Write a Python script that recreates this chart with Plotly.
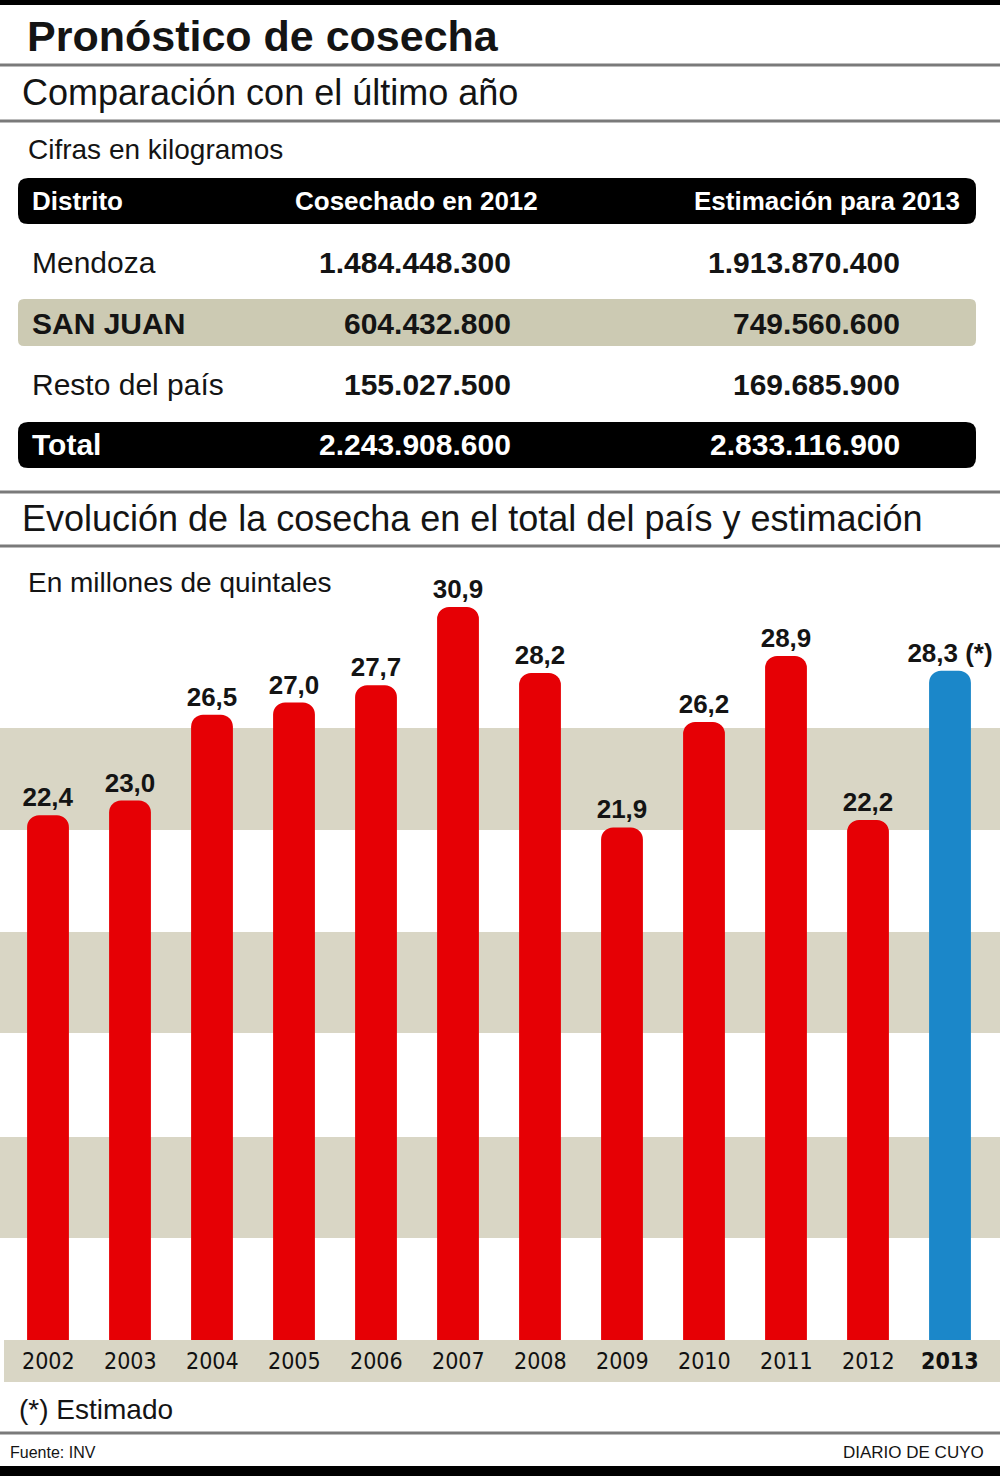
import plotly.graph_objects as go

# ---------------- data ----------------
title = "Pronóstico de cosecha"
subtitle_table = "Comparación con el último año"
table_note = "Cifras en kilogramos"
table_headers = ["Distrito", "Cosechado en 2012", "Estimación para 2013"]
districts = ["Mendoza", "SAN JUAN", "Resto del país"]
harvest_2012 = [1484448300, 604432800, 155027500]
estimate_2013 = [1913870400, 749560600, 169685900]
total_label = "Total"
total_2012 = 2243908600
total_2013 = 2833116900

subtitle_chart = "Evolución de la cosecha en el total del país y estimación"
chart_note = "En millones de quintales"
years = ["2002", "2003", "2004", "2005", "2006", "2007", "2008", "2009", "2010", "2011", "2012", "2013"]
harvest_values = [22.4, 23.0, 26.5, 27.0, 27.7, 30.9, 28.2, 21.9, 26.2, 28.9, 22.2, 28.3]
estimated_flags = [False] * 11 + [True]
footnote = "(*) Estimado"
source = "Fuente: INV"
brand = "DIARIO DE CUYO"

# ---------------- helpers ----------------
W, H = 1000, 1476
RED = "#e60005"
BLUE = "#1b87c9"
BEIGE = "#d9d6c5"
ROWBEIGE = "#cccab3"
TXT = "#141414"
FONT = "Liberation Sans, Arial, sans-serif"
NARROW = "Liberation Sans Narrow, DejaVu Sans Condensed, Liberation Sans, sans-serif"


def px(x):
    return x / W


def py(y):
    return 1 - y / H


def fmt_int(v):
    return f"{v:,}".replace(",", ".")


def fmt_dec(v):
    return f"{v:.1f}".replace(".", ",")


def rounded_rect(x0, y0, x1, y1, r, color):
    rx, ry = r / W, r / H
    X0, X1 = px(x0), px(x1)
    Y0, Y1 = py(y0), py(y1)  # Y0 top (greater), Y1 bottom
    path = (
        f"M {X0+rx},{Y0} L {X1-rx},{Y0} Q {X1},{Y0} {X1},{Y0-ry} "
        f"L {X1},{Y1+ry} Q {X1},{Y1} {X1-rx},{Y1} "
        f"L {X0+rx},{Y1} Q {X0},{Y1} {X0},{Y1+ry} "
        f"L {X0},{Y0-ry} Q {X0},{Y0} {X0+rx},{Y0} Z"
    )
    return dict(type="path", xref="paper", yref="paper", path=path,
                fillcolor=color, line=dict(width=0), layer="below")


def hline(y, width=3, color="#7a7a7a"):
    return dict(type="line", xref="paper", yref="paper", x0=0, x1=1,
                y0=py(y), y1=py(y), line=dict(color=color, width=width), layer="above")


shapes = []
annotations = []


def text(x, y, s, size, bold=False, color=TXT, anchor="left", family=FONT):
    if bold:
        s = f"<b>{s}</b>"
    annotations.append(dict(
        xref="paper", yref="paper", x=px(x), y=py(y), text=s, showarrow=False,
        xanchor=anchor, yanchor="middle",
        font=dict(family=family, size=size, color=color)))


# ---------------- header ----------------
shapes.append(dict(type="rect", xref="paper", yref="paper", x0=0, x1=1,
                   y0=py(5), y1=1, fillcolor="#000", line=dict(width=0)))
text(25, 36, title, 43, bold=True)
shapes.append(hline(65))
text(20, 93, subtitle_table, 36)
shapes.append(hline(121))
text(26, 150, table_note, 28)

# ---------------- table ----------------
col_left = 30
col2_right = 513
col3_right = 902
shapes.append(rounded_rect(18, 178, 976, 224, 10, "#000"))
text(col_left, 201, table_headers[0], 26, bold=True, color="white")
text(416, 201, table_headers[1], 26, bold=True, color="white", anchor="center")
text(962, 201, table_headers[2], 26, bold=True, color="white", anchor="right")

row_y = [262, 323, 384]
for i, (d, a, b) in enumerate(zip(districts, harvest_2012, estimate_2013)):
    is_sj = d == "SAN JUAN"
    if is_sj:
        shapes.append(rounded_rect(18, 299, 976, 346, 6, ROWBEIGE))
    text(col_left, row_y[i], d, 30, bold=is_sj)
    text(col2_right, row_y[i], fmt_int(a), 30, bold=True, anchor="right")
    text(col3_right, row_y[i], fmt_int(b), 30, bold=True, anchor="right")

shapes.append(rounded_rect(18, 422, 976, 468, 10, "#000"))
text(col_left, 445, total_label, 30, bold=True, color="white")
text(col2_right, 445, fmt_int(total_2012), 30, bold=True, color="white", anchor="right")
text(col3_right, 445, fmt_int(total_2013), 30, bold=True, color="white", anchor="right")

# ---------------- chart section ----------------
shapes.append(hline(492))
text(20, 518, subtitle_chart, 36)
shapes.append(hline(546))
text(26, 582, chart_note, 28)

Y0PX = 1364      # pixel of zero
PPU = 24.5       # pixels per unit
TOPPX = 560
ymax = (Y0PX - TOPPX) / PPU
dom = [py(Y0PX), py(TOPPX)]


def val_at(ypx):
    return (Y0PX - ypx) / PPU


# background stripes
for a, b in [(728, 830), (932, 1033), (1137, 1238)]:
    shapes.append(dict(type="rect", xref="paper", yref="y", x0=0, x1=1,
                       y0=val_at(b), y1=val_at(a), fillcolor=BEIGE,
                       line=dict(width=0), layer="below"))
# year band (covers bar bottoms)
shapes.append(dict(type="rect", xref="paper", yref="paper", x0=0.004, x1=1,
                   y0=py(1382), y1=py(1340), fillcolor=BEIGE,
                   line=dict(width=0), layer="above"))

colors = [BLUE if e else RED for e in estimated_flags]
labels = [fmt_dec(v) + (" (*)" if e else "") for v, e in zip(harvest_values, estimated_flags)]

fig = go.Figure(go.Bar(
    x=years, y=harvest_values, marker=dict(color=colors, line=dict(width=0), cornerradius=12),
    text=labels, textposition="outside", cliponaxis=False, constraintext="none",
    textfont=dict(family=FONT, size=26, color=TXT),
    texttemplate="<b>%{text}</b>",
    hoverinfo="skip",
))

for i, (yr, e) in enumerate(zip(years, estimated_flags)):
    annotations.append(dict(
        xref="x", yref="paper", x=i, y=py(1361), text=(f"<b>{yr}</b>" if e else yr),
        showarrow=False, xanchor="center", yanchor="middle",
        font=dict(family=NARROW, size=23, color="#111")))

# ---------------- footer ----------------
text(17, 1409, footnote, 28)
shapes.append(hline(1433))
text(8, 1452, source, 16)
text(986, 1452, brand, 17, anchor="right")
shapes.append(dict(type="rect", xref="paper", yref="paper", x0=0, x1=1,
                   y0=0, y1=py(1466), fillcolor="#000", line=dict(width=0)))

fig.update_layout(
    width=W, height=H,
    margin=dict(l=0, r=0, t=0, b=0),
    paper_bgcolor="white", plot_bgcolor="rgba(0,0,0,0)",
    showlegend=False,
    bargap=0.49,
    xaxis=dict(domain=[px(7), px(991)], type="category", range=[-0.5, len(years) - 0.5],
               autorange=False, visible=False, fixedrange=True),
    yaxis=dict(domain=dom, range=[0, ymax], autorange=False, visible=False, fixedrange=True),
    shapes=shapes,
    annotations=annotations,
)

fig.write_html("out.html")
